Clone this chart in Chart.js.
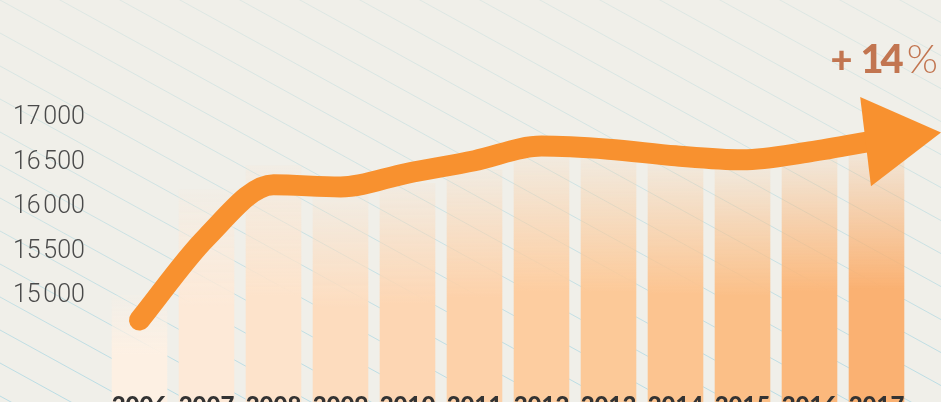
<!DOCTYPE html>
<html>
<head>
<meta charset="utf-8">
<script src="https://cdn.jsdelivr.net/npm/chart.js@4.4.1/dist/chart.umd.min.js"></script>
<style>
  html, body { margin: 0; padding: 0; background: #f0efe9; overflow: hidden; }
  #wrap { width: 941px; height: 402px; }
</style>
</head>
<body>
<div id="wrap"><canvas id="chart" width="941" height="402"></canvas></div>
<script>
const years = ['2006', '2007', '2008', '2009', '2010', '2011', '2012', '2013', '2014', '2015', '2016', '2017'];
const barValues = [15010, 16200, 16470, 16150, 16270, 16420, 16580, 16550, 16500, 16450, 16580, 16640];
const curveValues = [14730, 15660, 16250, 16225, 16380, 16520, 16685, 16650, 16575, 16530, 16620, 16750];
const yTicks = [15000, 15500, 16000, 16500, 17000];
const barColors = ['#fdf0e3', '#fde9d7', '#fde3cb', '#fddcbe', '#fdd6b3', '#fdd1a9',
                   '#fdcda0', '#fcc998', '#fcc490', '#fbbf87', '#fbb87c', '#fab172'];
const growthLabel = ['+', '14', '%'];

function withAlpha(hex, a) {
  const n = parseInt(hex.slice(1), 16);
  return `rgba(${(n >> 16) & 255}, ${(n >> 8) & 255}, ${n & 255}, ${a})`;
}

// faint diagonal hatching behind everything
const hatching = {
  id: 'hatching',
  beforeDraw(chart) {
    const ctx = chart.ctx;
    ctx.save();
    const g = ctx.createLinearGradient(0, 0, 0, chart.height);
    g.addColorStop(0, 'rgba(180, 215, 215, 0.3)');
    g.addColorStop(1, 'rgba(140, 205, 225, 0.55)');
    ctx.strokeStyle = g;
    ctx.lineWidth = 1;
    for (let k = -20; k < 20; k++) {
      const y0 = k * 33;
      ctx.beginPath();
      ctx.moveTo(0, y0);
      ctx.lineTo(chart.width, y0 + chart.width * 0.55);
      ctx.stroke();
    }
    ctx.restore();
  }
};

// arrow head at the end of the curve
const arrowHead = {
  id: 'arrowHead',
  afterDatasetsDraw(chart) {
    const pts = chart.getDatasetMeta(1).data;
    const last = pts[pts.length - 1];
    const prev = pts[pts.length - 2];
    let dx = last.x - prev.x, dy = (last.y - prev.y) * 0.7;
    const len = Math.hypot(dx, dy);
    dx /= len; dy /= len;
    const bx = last.x - 11 * dx, by = last.y - 11 * dy;
    const ctx = chart.ctx;
    ctx.save();
    ctx.fillStyle = '#f8912f';
    ctx.beginPath();
    ctx.moveTo(bx + 76 * dx, by + 76 * dy);
    ctx.lineTo(bx - 45 * dy, by + 45 * dx);
    ctx.lineTo(bx + 45 * dy, by - 45 * dx);
    ctx.closePath();
    ctx.fill();
    ctx.restore();
  }
};

// year labels sit over the bar feet and run off the bottom edge
const yearLabels = {
  id: 'yearLabels',
  afterDatasetsDraw(chart) {
    const ctx = chart.ctx;
    const xs = chart.scales.x;
    ctx.save();
    ctx.fillStyle = '#333333';
    ctx.font = '900 24px Lato';
    ctx.textAlign = 'center';
    ctx.textBaseline = 'alphabetic';
    years.forEach((y, i) => {
      ctx.fillText(y, xs.getPixelForValue(i), chart.chartArea.bottom + 12);
    });
    ctx.restore();
  }
};

// "+14%" note at top right
const growthNote = {
  id: 'growthNote',
  afterDraw(chart) {
    const ctx = chart.ctx;
    ctx.save();
    ctx.fillStyle = '#c27550';
    ctx.textBaseline = 'alphabetic';
    ctx.textAlign = 'left';
    const base = 73;
    ctx.font = '300 40px Lato';
    let x = chart.width - 3 - ctx.measureText(growthLabel[2]).width;
    ctx.fillText(growthLabel[2], x, base);
    ctx.font = '900 40px Lato';
    ctx.letterSpacing = '-3px';
    x -= 6 + ctx.measureText(growthLabel[1]).width;
    ctx.fillText(growthLabel[1], x, base);
    ctx.letterSpacing = '0px';
    ctx.font = '900 38px Lato';
    x -= 8 + ctx.measureText(growthLabel[0]).width;
    ctx.fillText(growthLabel[0], x, base);
    ctx.restore();
  }
};

new Chart(document.getElementById('chart'), {
  data: {
    labels: years,
    datasets: [
      {
        type: 'bar',
        data: barValues,
        order: 2,
        categoryPercentage: 1,
        barPercentage: 0.83,
        backgroundColor: (c) => {
          const chart = c.chart;
          const area = chart.chartArea;
          if (!area || c.type !== 'data') return barColors[0];
          const col = barColors[c.dataIndex];
          const top = chart.scales.y.getPixelForValue(barValues[c.dataIndex]);
          const g = chart.ctx.createLinearGradient(0, area.bottom, 0, top);
          g.addColorStop(0, col);
          g.addColorStop(0.45, col);
          g.addColorStop(1, withAlpha(col, 0.12));
          return g;
        }
      },
      {
        type: 'line',
        data: curveValues,
        order: 1,
        borderColor: '#f8912f',
        borderWidth: 21,
        borderCapStyle: 'round',
        borderJoinStyle: 'round',
        cubicInterpolationMode: 'monotone',
        pointRadius: 0,
        clip: false
      }
    ]
  },
  options: {
    responsive: false,
    devicePixelRatio: 1,
    animation: false,
    layout: { padding: { left: 13, right: 31, top: 0, bottom: 0 } },
    plugins: { legend: { display: false }, tooltip: { enabled: false } },
    scales: {
      x: {
        offset: true,
        grid: { display: false },
        border: { display: false },
        ticks: { display: false },
        afterFit: (scale) => { scale.height = 0; scale.paddingLeft = 0; scale.paddingRight = 0; }
      },
      y: {
        min: 13809,
        max: 18326,
        grid: { display: false },
        border: { display: false },
        afterBuildTicks: (scale) => { scale.ticks = yTicks.map((v) => ({ value: v })); },
        afterFit: (scale) => { scale.width = 93; scale.paddingTop = 0; scale.paddingBottom = 0; },
        ticks: {
          crossAlign: 'far',
          padding: 0,
          color: '#4a4a4a',
          font: { family: 'Roboto', weight: '300', size: 25 },
          callback: (v) => String(v).replace(/(\d{2})(\d{3})$/, '$1\u200A$2')
        }
      }
    }
  },
  plugins: [hatching, arrowHead, yearLabels, growthNote]
});
</script>
</body>
</html>
